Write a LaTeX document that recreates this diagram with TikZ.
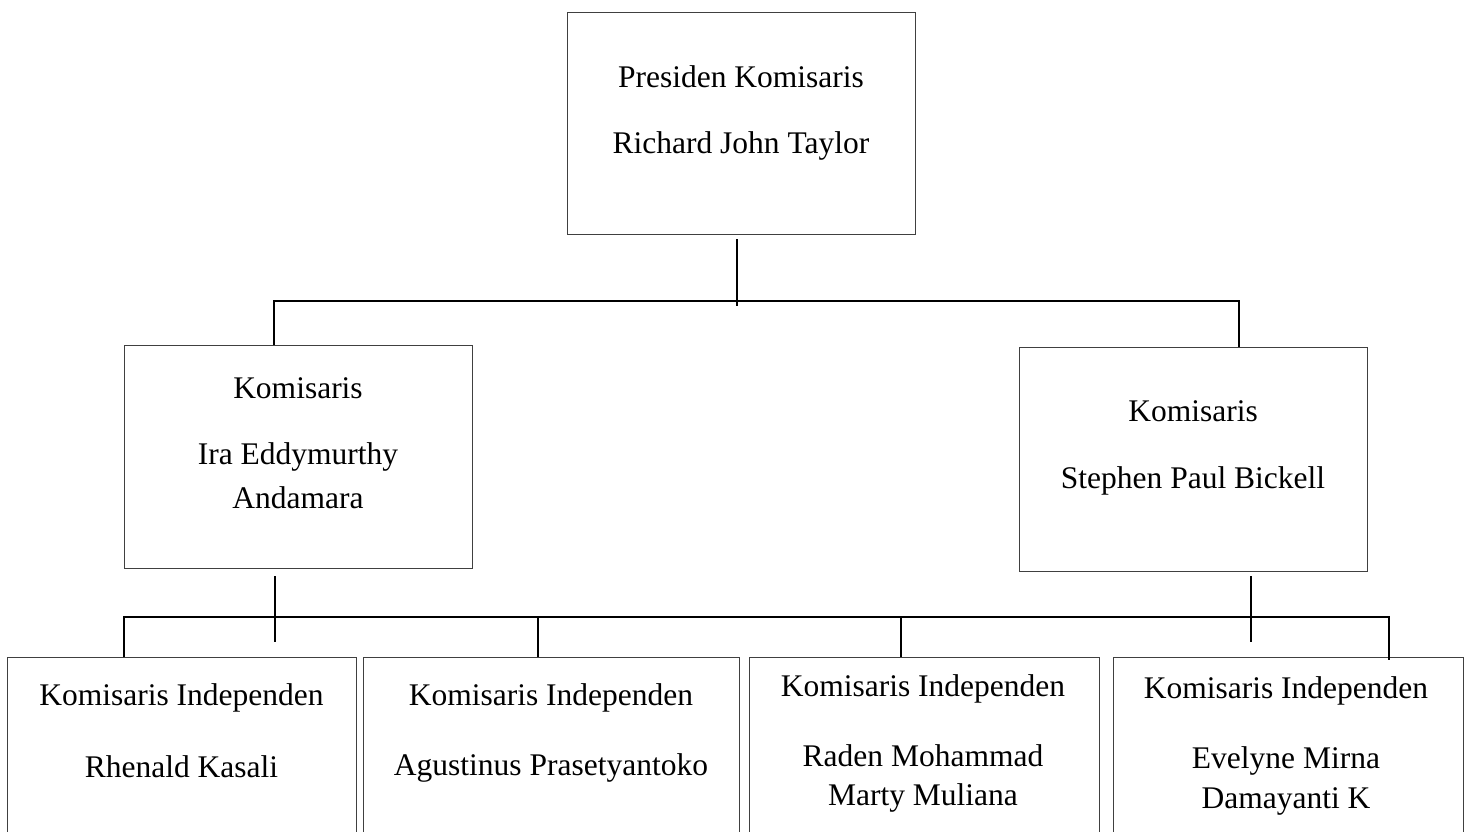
\documentclass[tikz,border=0pt]{standalone}
\usepackage{fontspec}
\setmainfont{Liberation Serif}
\begin{document}
\begin{tikzpicture}[x=1pt,y=-1pt,
  box/.style={draw=black!75, line width=1pt, inner sep=0pt},
  lbl/.style={font=\fontsize{31.5}{36}\selectfont, inner sep=0pt, anchor=center},
  conn/.style={line width=1.7pt, black}]
\useasboundingbox (0,0) rectangle (1465,831);
% boxes
\node[box, minimum width=348pt, minimum height=222pt] (pk) at (741,123) {};
\node[box, minimum width=348pt, minimum height=223pt] (k1) at (298,456.5) {};
\node[box, minimum width=348pt, minimum height=224pt] (k2) at (1193,459) {};
\node[box, minimum width=349pt, minimum height=300pt] (i1) at (181.5,807) {};
\node[box, minimum width=376pt, minimum height=300pt] (i2) at (551,807) {};
\node[box, minimum width=350pt, minimum height=300pt] (i3) at (924,807) {};
\node[box, minimum width=350pt, minimum height=300pt] (i4) at (1288,807) {};
% texts
\node[lbl] (pkt1) at (741,77) {Presiden Komisaris};
\node[lbl] (pkt2) at (741,146) {Richard John Taylor};
\node[lbl] (k1t1) at (298,388) {Komisaris};
\node[lbl] (k1t2) at (298,457) {Ira Eddymurthy};
\node[lbl] (k1t3) at (298,498) {Andamara};
\node[lbl] (k2t1) at (1193,411) {Komisaris};
\node[lbl] (k2t2) at (1193,481) {Stephen Paul Bickell};
\node[lbl] (i1t1) at (181.5,698) {Komisaris Independen};
\node[lbl] (i1t2) at (181.5,767) {Rhenald Kasali};
\node[lbl] (i2t1) at (551,698) {Komisaris Independen};
\node[lbl] (i2t2) at (551,768) {Agustinus Prasetyantoko};
\node[lbl] (i3t1) at (923,689) {Komisaris Independen};
\node[lbl] (i3t2) at (923,756) {Raden Mohammad};
\node[lbl] (i3t3) at (923,798) {Marty Muliana};
\node[lbl] (i4t1) at (1286,691) {Komisaris Independen};
\node[lbl] (i4t2) at (1286,761) {Evelyne Mirna};
\node[lbl] (i4t3) at (1286,801) {Damayanti K};
% connector points
\coordinate (a1) at (737,239);
\coordinate (a2) at (737,306);
\coordinate (hL) at (274,301);
\coordinate (hR) at (1239,301);
\coordinate (dL) at (274,345);
\coordinate (dR) at (1239,347);
\coordinate (b1) at (275,576);
\coordinate (b2) at (275,642);
\coordinate (c1) at (1251,576);
\coordinate (c2) at (1251,642);
\coordinate (gL) at (124,617);
\coordinate (gR) at (1389,617);
\coordinate (g2) at (538,617);
\coordinate (g3) at (901,617);
\coordinate (e1) at (124,657);
\coordinate (e2) at (538,657);
\coordinate (e3) at (901,657);
\coordinate (e4) at (1389,660);
% connectors
\draw[conn] (a1) -- (a2);
\draw[conn] (dL) -- (hL) -- (hR) -- (dR);
\draw[conn] (b1) -- (b2);
\draw[conn] (c1) -- (c2);
\draw[conn] (e1) -- (gL) -- (gR) -- (e4);
\draw[conn] (g2) -- (e2);
\draw[conn] (g3) -- (e3);
\end{tikzpicture}
\end{document}
